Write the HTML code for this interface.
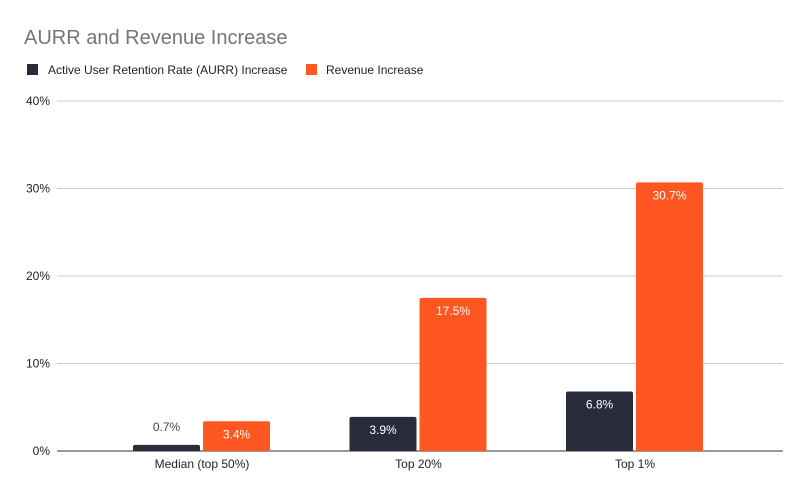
<!DOCTYPE html>
<html><head><meta charset="utf-8"><style>
body{margin:0;background:#fff;font-family:"Liberation Sans",Arial,sans-serif;}
svg{display:block}
</style></head><body>
<svg id="chart" width="806" height="496">
<text x="24" y="44" font-size="20" fill="#757575">AURR and Revenue Increase</text>
<g>
<rect x="27" y="64" width="11" height="11" fill="#282c3a"/>
<text x="48" y="74" font-size="12" fill="#222">Active User Retention Rate (AURR) Increase</text>
<rect x="306" y="64" width="11" height="11" fill="#ff5722"/>
<text x="326" y="74" font-size="12" fill="#222">Revenue Increase</text>
</g>
<g id="grid"></g><g id="bars"></g>
</svg>
<script>
const categories=["Median (top 50%)","Top 20%","Top 1%"];
const aurr=[0.7,3.9,6.8];
const revenue=[3.4,17.5,30.7];
const ticks=[0,10,20,30,40];
const NS="http://www.w3.org/2000/svg";
const y0=451,pxPer=8.75,left=57,right=783;
function y(v){return y0-v*pxPer;}
function cx(i){return 202+216.5*i;}
function mk(t,a,p){const e=document.createElementNS(NS,t);for(const k in a)e.setAttribute(k,a[k]);p.appendChild(e);return e;}
const grid=document.getElementById('grid'),bars=document.getElementById('bars');
ticks.forEach(t=>{
 const l=mk('line',{x1:left,x2:right,y1:y(t),y2:y(t),stroke:t===0?'#333':'#ccc','stroke-width':1},grid);
 
 
 const tx=mk('text',{x:50,y:y(t)+4,'font-size':12,fill:'#222','text-anchor':'end'},grid);
 tx.textContent=t+'%';
 
 
});
function bar(x,v,color,name,labelInside){
 const h=v*pxPer;
 const r=mk('path',{d:`M${x},${y0}V${y0-h+2}q0,-2 2,-2H${x+65}q2,0 2,2V${y0}Z`,fill:color},bars);
 
 
 const inside=h>24;
 const t=mk('text',{x:x+33.5,y:inside?y0-h+17:y0-h-14,'font-size':12,'text-anchor':'middle',fill:inside?'#fff':'#444'},bars);
 t.textContent=v.toFixed(1)+'%';
 
 
}
categories.forEach((c,i)=>{
 bar(cx(i)-69,aurr[i],'#282c3a','bar-aurr-'+i);
 bar(cx(i)+1,revenue[i],'#ff5722','bar-revenue-'+i);
 const t=mk('text',{x:cx(i),y:468,'font-size':12,fill:'#222','text-anchor':'middle'},bars);
 t.textContent=c;
 
 
});
</script>
</body></html>
